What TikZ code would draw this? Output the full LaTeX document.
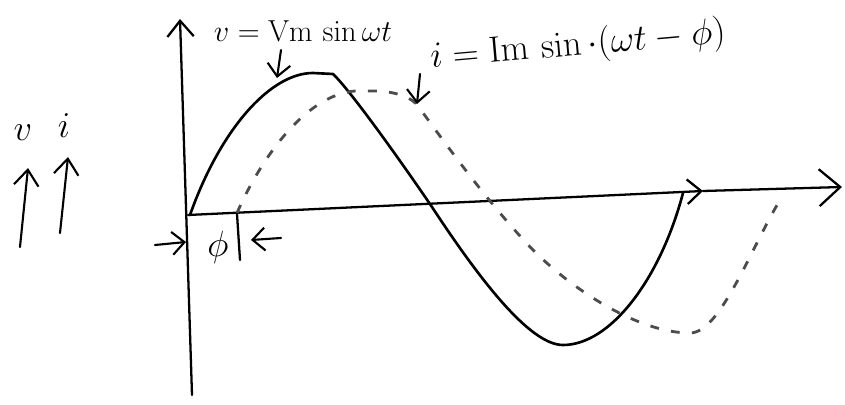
\documentclass[tikz,border=0pt]{standalone}
\usepackage{amsmath,amssymb}
\usepackage{tikz}
\usetikzlibrary{arrows.meta, positioning}
\tikzstyle{axisline} = [line width=1.3pt, line cap=round]
\tikzstyle{vcurve} = [line width=1.5pt, line join=round, line cap=round]
\tikzstyle{icurve} = [line width=1.6pt, black!70, dash pattern=on 5pt off 7pt]
\tikzstyle{arrow} = [line width=1.2pt, line cap=round, -{Straight Barb[length=7pt,width=13pt,line width=1.2pt]}]
\tikzstyle{handtext} = [inner sep=1pt, font=\fontsize{17}{20}\selectfont]

\begin{document}
\begin{tikzpicture}[x=0.02cm, y=-0.02cm]
    \useasboundingbox (0,0) rectangle (845,405);
    % axes
    \coordinate (origin) at (188,215);
    \coordinate (ytop) at (180,19);
    \coordinate (ybot) at (192,395);
    \coordinate (tmark) at (703,191);
    \coordinate (tend) at (842,187);
    \draw [axisline, -{Straight Barb[length=9pt,width=15pt,line width=1.3pt]}] (ybot) -- (ytop);
    \draw [axisline, -{Straight Barb[length=8pt,width=14pt,line width=1.3pt]}] (origin) -- (tmark);
    \draw [axisline, -{Straight Barb[length=12pt,width=21pt,line width=1.3pt]}] (tmark) -- (tend);
    % voltage wave
    \draw [vcurve] (190,215) .. controls (220,130) and (270,73) .. (313,73) -- (333,74)
        .. controls (350,90) and (400,160) .. (432,207)
        .. controls (480,280) and (530,345) .. (563,345)
        .. controls (610,345) and (660,280) .. (683,193);
    % current wave, lagging by phi
    \draw [icurve] (237,213) .. controls (260,160) and (305,95) .. (355,91) -- (380,91)
        .. controls (400,93) and (412,98) .. (418,106)
        .. controls (450,150) and (490,205) .. (533,250)
        .. controls (575,292) and (640,333) .. (690,333)
        .. controls (720,333) and (750,250) .. (780,200);
    % labels of the waves
    \node [handtext] (vlabel) at (303,31) {$v=\mathrm{Vm}\,\sin\omega t$};
    \node [handtext, rotate=5, font=\fontsize{20}{24}\selectfont] (ilabel) at (578,46) {$i=\mathrm{Im}\,\sin\cdot(\omega t-\phi)$};
    \coordinate (vtail) at (281,50);
    \coordinate (vhead) at (277,78);
    \coordinate (itail) at (420,74);
    \coordinate (ihead) at (417,104);
    \draw [arrow] (vtail) -- (vhead);
    \draw [arrow] (itail) -- (ihead);
    % phase angle
    \coordinate (phitop) at (237,214);
    \coordinate (phibot) at (240,260);
    \draw [axisline] (phitop) -- (phibot);
    \node [handtext, font=\fontsize{22}{24}\selectfont] (phi) at (218,247) {$\phi$};
    \coordinate (ltail) at (155,245);
    \coordinate (lhead) at (186,242);
    \coordinate (rtail) at (281,238);
    \coordinate (rhead) at (251,240);
    \draw [arrow] (ltail) -- (lhead);
    \draw [arrow] (rtail) -- (rhead);
    % v and i directions
    \node [handtext, font=\fontsize{22}{24}\selectfont] (vname) at (23,133) {$v$};
    \node [handtext, font=\fontsize{22}{24}\selectfont] (iname) at (64,126) {$i$};
    \coordinate (vup) at (28,168);
    \coordinate (vdown) at (20,247);
    \coordinate (iup) at (68,157);
    \coordinate (idown) at (60,233);
    \draw [arrow, -{Straight Barb[length=9pt,width=14pt,line width=1.2pt]}] (vdown) -- (vup);
    \draw [arrow, -{Straight Barb[length=9pt,width=14pt,line width=1.2pt]}] (idown) -- (iup);
\end{tikzpicture}
\end{document}
